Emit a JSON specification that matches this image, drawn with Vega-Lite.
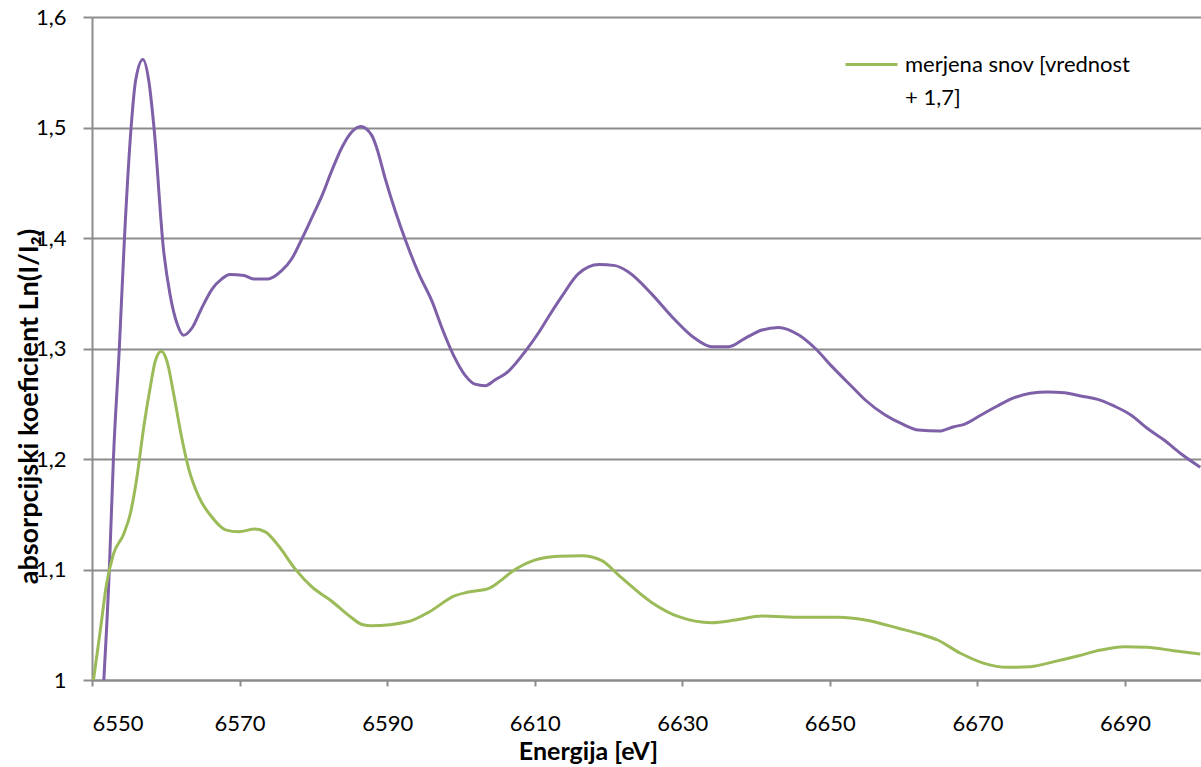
{
  "$schema": "https://vega.github.io/schema/vega-lite/v6.json",
  "width": 1109,
  "height": 663,
  "autosize": {"type": "none"},
  "padding": {"left": 92, "top": 17, "right": 0, "bottom": 87},
  "background": "white",
  "datasets": {
    "purple": [
      {"E": 6551.6, "v": 1.0}, {"E": 6552.35, "v": 1.1}, {"E": 6552.9, "v": 1.2}, {"E": 6553.7, "v": 1.3},
      {"E": 6554.4, "v": 1.4}, {"E": 6555.3, "v": 1.5}, {"E": 6555.9, "v": 1.542}, {"E": 6556.9, "v": 1.5615},
      {"E": 6557.7, "v": 1.542}, {"E": 6558.4, "v": 1.5}, {"E": 6559.7, "v": 1.389}, {"E": 6560.6, "v": 1.348},
      {"E": 6561.5, "v": 1.323}, {"E": 6562.4, "v": 1.312}, {"E": 6563.6, "v": 1.319}, {"E": 6564.9, "v": 1.337},
      {"E": 6566.3, "v": 1.354}, {"E": 6567.6, "v": 1.363}, {"E": 6568.7, "v": 1.367}, {"E": 6570.6, "v": 1.366},
      {"E": 6571.9, "v": 1.363}, {"E": 6573.9, "v": 1.363}, {"E": 6575.7, "v": 1.3705}, {"E": 6577.1, "v": 1.3815},
      {"E": 6578.5, "v": 1.4}, {"E": 6579.8, "v": 1.4185}, {"E": 6581.2, "v": 1.4388}, {"E": 6582.5, "v": 1.461},
      {"E": 6583.9, "v": 1.4824}, {"E": 6585.2, "v": 1.496}, {"E": 6586.4, "v": 1.501}, {"E": 6587.9, "v": 1.4931},
      {"E": 6588.6, "v": 1.4813}, {"E": 6589.7, "v": 1.4546}, {"E": 6591.1, "v": 1.4244}, {"E": 6592.5, "v": 1.3977},
      {"E": 6594.3, "v": 1.3675}, {"E": 6596.1, "v": 1.3424}, {"E": 6597.4, "v": 1.319}, {"E": 6599.0, "v": 1.2938},
      {"E": 6600.6, "v": 1.2755}, {"E": 6601.9, "v": 1.2678}, {"E": 6603.3, "v": 1.2664}, {"E": 6604.6, "v": 1.2715},
      {"E": 6606.5, "v": 1.2798}, {"E": 6608.7, "v": 1.2972}, {"E": 6610.5, "v": 1.314}, {"E": 6611.9, "v": 1.329},
      {"E": 6613.7, "v": 1.3474}, {"E": 6615.9, "v": 1.3675}, {"E": 6618.7, "v": 1.376}, {"E": 6620.9, "v": 1.375},
      {"E": 6622.7, "v": 1.3692}, {"E": 6625.9, "v": 1.349}, {"E": 6628.6, "v": 1.3288}, {"E": 6631.7, "v": 1.3092},
      {"E": 6634.0, "v": 1.3016}, {"E": 6636.3, "v": 1.3016}, {"E": 6638.5, "v": 1.3092}, {"E": 6640.8, "v": 1.3167},
      {"E": 6643.0, "v": 1.3191}, {"E": 6645.8, "v": 1.3122}, {"E": 6648.0, "v": 1.3002}, {"E": 6650.3, "v": 1.2836},
      {"E": 6653.0, "v": 1.2654}, {"E": 6654.8, "v": 1.2534}, {"E": 6657.5, "v": 1.2398}, {"E": 6659.8, "v": 1.2317},
      {"E": 6662.0, "v": 1.2262}, {"E": 6664.8, "v": 1.2253}, {"E": 6666.8, "v": 1.2292}, {"E": 6668.2, "v": 1.2314},
      {"E": 6670.5, "v": 1.2398}, {"E": 6672.7, "v": 1.248}, {"E": 6675.0, "v": 1.2555}, {"E": 6677.2, "v": 1.2595},
      {"E": 6679.5, "v": 1.2606}, {"E": 6681.8, "v": 1.26}, {"E": 6684.0, "v": 1.257}, {"E": 6686.3, "v": 1.254},
      {"E": 6688.5, "v": 1.248}, {"E": 6690.8, "v": 1.2398}, {"E": 6693.0, "v": 1.2278}, {"E": 6695.3, "v": 1.2172},
      {"E": 6697.5, "v": 1.2052}, {"E": 6700.2, "v": 1.1925}
    ],
    "green": [
      {"E": 6550.2, "v": 1.0}, {"E": 6551.1, "v": 1.0436}, {"E": 6552.0, "v": 1.0879}, {"E": 6552.9, "v": 1.1138},
      {"E": 6554.3, "v": 1.1322}, {"E": 6555.2, "v": 1.1507}, {"E": 6556.1, "v": 1.184}, {"E": 6557.0, "v": 1.2282},
      {"E": 6557.9, "v": 1.2652}, {"E": 6558.6, "v": 1.2892}, {"E": 6559.4, "v": 1.2974}, {"E": 6560.2, "v": 1.2874},
      {"E": 6561.1, "v": 1.2578}, {"E": 6562.0, "v": 1.2246}, {"E": 6563.1, "v": 1.1913}, {"E": 6564.5, "v": 1.1655},
      {"E": 6566.3, "v": 1.147}, {"E": 6568.1, "v": 1.1359}, {"E": 6569.9, "v": 1.1341}, {"E": 6572.1, "v": 1.1367},
      {"E": 6573.5, "v": 1.1341}, {"E": 6575.3, "v": 1.1212}, {"E": 6577.5, "v": 1.1008}, {"E": 6579.8, "v": 1.0842},
      {"E": 6582.5, "v": 1.0713}, {"E": 6584.8, "v": 1.0584}, {"E": 6586.6, "v": 1.0502}, {"E": 6587.9, "v": 1.049},
      {"E": 6592.9, "v": 1.0529}, {"E": 6595.6, "v": 1.0612}, {"E": 6599.2, "v": 1.0763}, {"E": 6601.0, "v": 1.0796},
      {"E": 6603.8, "v": 1.083}, {"E": 6605.3, "v": 1.0895}, {"E": 6606.9, "v": 1.098}, {"E": 6610.1, "v": 1.1087},
      {"E": 6613.2, "v": 1.112},
      {"E": 6616.4, "v": 1.1124}, {"E": 6619.1, "v": 1.108}, {"E": 6621.4, "v": 1.0947}, {"E": 6625.9, "v": 1.07},
      {"E": 6629.5, "v": 1.0573}, {"E": 6634.0, "v": 1.0519}, {"E": 6637.2, "v": 1.0543}, {"E": 6640.8, "v": 1.0579},
      {"E": 6646.2, "v": 1.0567}, {"E": 6651.2, "v": 1.0567}, {"E": 6654.8, "v": 1.0543}, {"E": 6659.3, "v": 1.0468},
      {"E": 6662.3, "v": 1.0415}, {"E": 6664.6, "v": 1.0362}, {"E": 6667.7, "v": 1.0242}, {"E": 6670.9, "v": 1.0151},
      {"E": 6674.1, "v": 1.0115}, {"E": 6677.2, "v": 1.0121}, {"E": 6680.4, "v": 1.0166}, {"E": 6683.6, "v": 1.0217},
      {"E": 6686.7, "v": 1.0271}, {"E": 6689.9, "v": 1.0301}, {"E": 6693.0, "v": 1.0296}, {"E": 6696.6, "v": 1.0265},
      {"E": 6700.2, "v": 1.0235}
    ]
  },
  "encoding": {
    "x": {
      "field": "E", "type": "quantitative",
      "scale": {"domain": [6550, 6700.3], "nice": false, "zero": false},
      "axis": {
        "values": [6550, 6570, 6590, 6610, 6630, 6650, 6670, 6690],
        "format": "d", "grid": false, "tickSize": 6, "labelPadding": 27,
        "title": "Energija [eV]", "titleX": 496, "titleY": 79, "titleAnchor": null,
        "titleAlign": "center", "titleBaseline": "alphabetic", "titleFontSize": 25
      }
    },
    "y": {
      "field": "v", "type": "quantitative",
      "scale": {"domain": [1, 1.6], "nice": false, "zero": false},
      "axis": {
        "values": [1, 1.1, 1.2, 1.3, 1.4, 1.5, 1.6],
        "labelExpr": "datum.value == 1 ? '1' : replace(format(datum.value, '.1f'), '.', ',')",
        "grid": true, "tickSize": 9, "labelPadding": 17,
        "title": "absorpcijski koeficient Ln(I/I₂)", "titleFontSize": 27,
        "titleAngle": -90, "titleX": -55, "titleY": 389, "titleAlign": "center", "titleBaseline": "alphabetic"
      }
    }
  },
  "layer": [
    {
      "data": {"name": "purple"},
      "mark": {"type": "line", "color": "#7E60A8", "strokeWidth": 3, "interpolate": "monotone", "clip": true}
    },
    {
      "data": {"name": "green"},
      "mark": {"type": "line", "strokeWidth": 3, "interpolate": "monotone", "clip": true},
      "encoding": {
        "color": {
          "datum": "merjena snov [vrednost + 1,7]",
          "type": "nominal",
          "scale": {"range": ["#9BBB59"]},
          "legend": {
            "orient": "none", "legendX": 752, "legendY": 20, "title": null,
            "symbolType": "stroke", "symbolSize": 2704, "symbolStrokeWidth": 3,
            "labelFontSize": 22, "labelFont": "Lato", "labelColor": "black",
            "labelOffset": 6, "labelLimit": 400, "padding": 0,
            "labelExpr": "['merjena snov [vrednost', '+ 1,7]']"
          }
        }
      }
    }
  ],
  "config": {
    "font": "Lato",
    "view": {"stroke": null},
    "style": {"guide-label": {"lineHeight": 33}},
    "axis": {
      "labelFont": "Lato", "labelFontSize": 22, "labelColor": "black",
      "titleFont": "Lato", "titleFontSize": 22, "titleFontWeight": "bold", "titleColor": "black",
      "domainColor": "#8C8C8C", "domainWidth": 2, "tickColor": "#8C8C8C", "tickWidth": 2,
      "gridColor": "#8C8C8C", "gridWidth": 2
    }
  }
}
